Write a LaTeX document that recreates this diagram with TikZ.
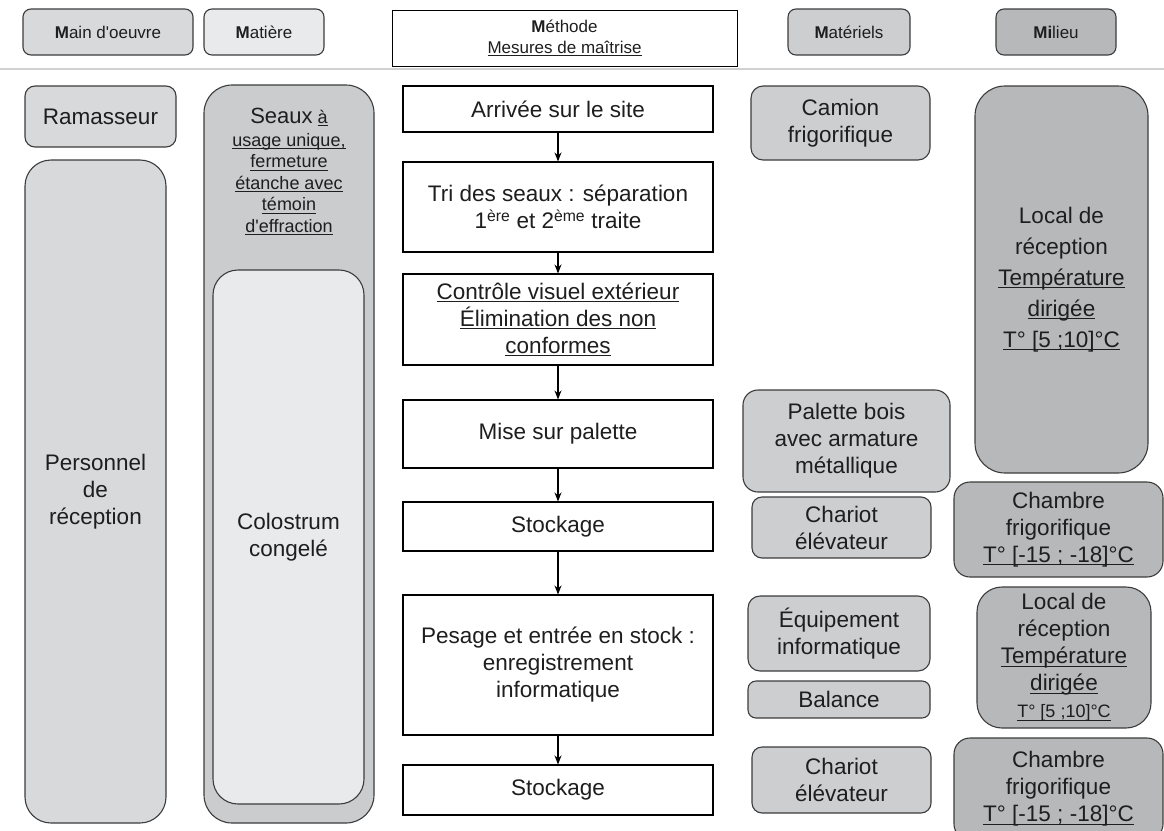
\documentclass[tikz,border=0pt]{standalone}
\usepackage{fontspec}
\setmainfont{Liberation Sans}
\usetikzlibrary{arrows.meta}

% underline close under the text
\newcommand{\ulx}[1]{\leavevmode\setbox0\hbox{#1}\rlap{\rule[-3pt]{\wd0}{0.9pt}}\box0}

\definecolor{edge}{RGB}{60,60,60}
\definecolor{gmain}{RGB}{216,217,219}
\definecolor{gmat}{RGB}{233,234,236}
\definecolor{gseau}{RGB}{203,204,206}
\definecolor{gmatl}{RGB}{205,206,208}
\definecolor{gmil}{RGB}{183,184,186}
\definecolor{ink}{RGB}{30,30,30}

\begin{document}
\begin{tikzpicture}[
    x=1pt, y=-1pt,
    % one rounded box: fill, border, text centred
    rbox/.style={draw=edge, line width=1.1pt, inner sep=0pt, align=center, text=ink,
                 font=\fontsize{22.5}{27}\selectfont},
    hdr/.style={rbox, rounded corners=8pt, font=\fontsize{17}{21}\selectfont},
    etape/.style={draw=black, line width=1.1pt, fill=white, inner sep=0pt, text=ink,
                  align=center, font=\fontsize{22.5}{27}\selectfont,
                  minimum width=310pt},
    flow/.style={-{Stealth[length=9pt,width=7pt]}, line width=1.1pt},
    wh/.style 2 args={minimum width=#1, minimum height=#2},
]
\useasboundingbox (0,0) rectangle (1164,830);

% =========================================================
% HEADER ROW: the five M
% =========================================================
\node[hdr, fill=gmain, wh={170pt}{46pt}] (mo) at (108,32) {\textbf{M}ain d\textquotesingle oeuvre};
\node[hdr, fill=gmat, wh={120pt}{46pt}] (mat) at (264,32) {\textbf{M}atière};
\node[draw=black, line width=1pt, inner sep=0pt, align=center, wh={345pt}{56pt}, text=ink,
      font=\fontsize{17}{21}\selectfont] (meth) at (564.5,38)
      {\textbf{M}éthode\\\ulx{Mesures de maîtrise}};
\node[hdr, fill=gmatl, wh={122pt}{46pt}] (matl) at (849,32) {\textbf{M}atériels};
\node[hdr, fill=gmil, wh={120pt}{46pt}] (mil) at (1056,32) {\textbf{Mi}lieu};

\draw[black!18, line width=1.5pt] (0,69) -- (1164,69);

% =========================================================
% MAIN D'OEUVRE
% =========================================================
\node[rbox, fill=gmain, rounded corners=10pt, wh={151pt}{61pt}] (ram) at (100.5,116.5) {Ramasseur};
\node[rbox, fill=gmain, rounded corners=26pt, wh={141pt}{663pt}] (pers) at (95.5,491.5)
      {Personnel\\de\\réception};

% =========================================================
% MATIERE: seaux round the frozen colostrum
% =========================================================
\node[rbox, fill=gseau, rounded corners=28pt, wh={170pt}{738pt}] (seaux) at (289,454) {};
\node[anchor=north, align=center, inner sep=0pt, text=ink, font=\fontsize{18}{21.5}\selectfont] (seauxtxt)
      at ([yshift=-23pt]seaux.north)
      {{\fontsize{22}{21}\selectfont Seaux} \ulx{à}\\[1.5pt]
       \ulx{usage unique,}\\\ulx{fermeture}\\\ulx{étanche avec}\\
       \ulx{témoin}\\\ulx{d\textquotesingle effraction}};
\node[rbox, fill=gmat, rounded corners=25pt, wh={151pt}{534pt}] (colo) at (288.5,537)
      {Colostrum\\congelé};

% =========================================================
% METHODE: the steps
% =========================================================
\node[etape, minimum height=46pt] (arr) at (558,109) {Arrivée sur le site};
\node[etape, minimum height=90pt] (tri) at (558,207)
      {Tri des seaux : séparation\\1\textsuperscript{ère} et 2\textsuperscript{ème} traite};
\node[etape, minimum height=91pt] (ctrl) at (558,319.5)
      {\ulx{Contrôle visuel extérieur}\\\ulx{Élimination des non}\\\ulx{conformes}};
\node[etape, minimum height=68pt] (mise) at (558,434) {Mise sur palette};
\node[etape, minimum height=49pt] (stock) at (558,526.5) {Stockage};
\node[etape, minimum height=140pt] (pes) at (558,665)
      {Pesage et entrée en stock :\\enregistrement\\informatique};
\node[etape, minimum height=50pt] (stockb) at (558,790) {Stockage};

\draw[flow] (arr) -- (tri);
\draw[flow] (tri) -- (ctrl);
\draw[flow] (ctrl) -- (mise);
\draw[flow] (mise) -- (stock);
\draw[flow] (stock) -- (pes);
\draw[flow] (pes) -- (stockb);

% =========================================================
% MATERIELS
% =========================================================
\node[rbox, fill=gmatl, rounded corners=12pt, wh={179pt}{74pt}] (cam) at (840.5,123) {Camion\\frigorifique};
\node[rbox, fill=gmatl, rounded corners=15pt, wh={207pt}{102pt}] (pal) at (846.5,441)
      {Palette bois\\avec armature\\métallique};
\node[rbox, fill=gmatl, rounded corners=10pt, wh={179pt}{61pt}] (char) at (841.5,527.5) {Chariot\\élévateur};
\node[rbox, fill=gmatl, rounded corners=12pt, wh={182pt}{75pt}] (equ) at (839,633.5) {Équipement\\informatique};
\node[rbox, fill=gmatl, rounded corners=8pt, wh={182pt}{37pt}] (bal) at (839,699.5) {Balance};
\node[rbox, fill=gmatl, rounded corners=10pt, wh={179pt}{66pt}] (charb) at (841.5,780) {Chariot\\élévateur};

% =========================================================
% MILIEU
% =========================================================
\node[rbox, fill=gmil, rounded corners=30pt, wh={173pt}{387pt},
      font=\fontsize{22.5}{31}\selectfont] (loc) at (1061.5,279.5)
      {Local de\\réception\\\ulx{Température}\\\ulx{dirigée}\\\ulx{T° [5 ;10]°C}};
\node[rbox, fill=gmil, rounded corners=16pt, wh={209pt}{95pt}] (ch) at (1058.5,529.5)
      {Chambre\\frigorifique\\\ulx{T° [-15 ; -18]°C}};
\node[rbox, fill=gmil, rounded corners=25pt, wh={174pt}{141pt}] (locb) at (1064,657.5)
      {Local de\\réception\\\ulx{Température}\\\ulx{dirigée}\\
       {\fontsize{18}{20}\selectfont\ulx{T° [5 ;10]°C}}};
\node[rbox, fill=gmil, rounded corners=16pt, wh={209pt}{102pt}] (chb) at (1058.5,789)
      {Chambre\\frigorifique\\\ulx{T° [-15 ; -18]°C}};

\end{tikzpicture}
\end{document}
